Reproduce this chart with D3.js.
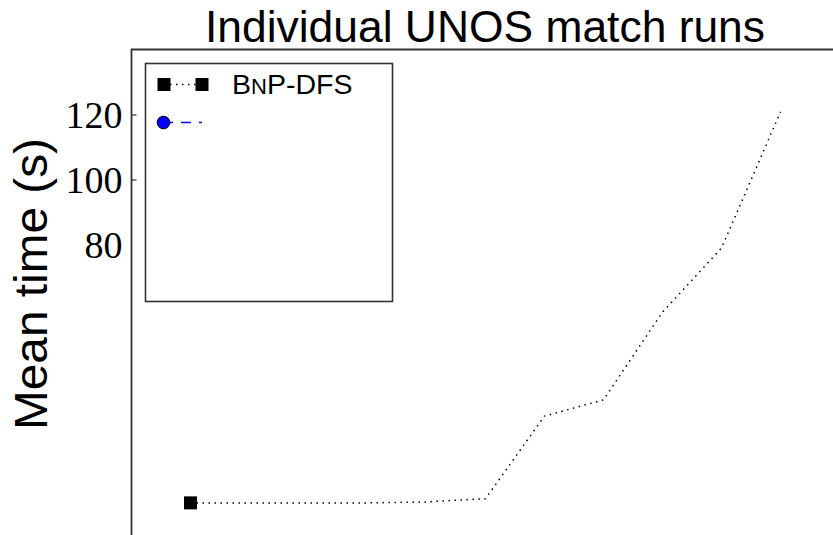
<!DOCTYPE html>
<html>
<head>
<meta charset="utf-8">
<script src="https://cdn.jsdelivr.net/npm/d3@7"></script>
<style>
  body { margin: 0; background: #fff; }
  svg { display: block; }
</style>
</head>
<body>
<div id="chart"></div>
<script>
// Chart size
const width = 833;
const height = 535;

// Data
const runIndex = [0, 1, 2, 3, 4, 5, 6, 7, 8, 9, 10];
const bnpDfsTime = [0.5, 0.5, 0.5, 0.5, 0.8, 1.8, 27.2, 32.2, 59.2, 78.9, 120.8];
const yTicks = [80, 100, 120];
const legendLabels = ["BnP-DFS", ""];

const svg = d3.select("#chart")
  .append("svg")
  .attr("width", width)
  .attr("height", height);

// Axes box (right and bottom run off the page)
const plotLeft = 131.5, plotTop = 49.5, plotRight = 839.5, plotBottom = 569.5;

const x = d3.scaleLinear().domain([-1, 11]).range([plotLeft, plotRight]);
const y = d3.scaleLinear().domain([-20, 140]).range([plotBottom, plotTop]);

svg.append("clipPath")
  .attr("id", "plot-area")
  .append("rect")
  .attr("x", plotLeft)
  .attr("y", plotTop)
  .attr("width", plotRight - plotLeft)
  .attr("height", plotBottom - plotTop);

// Series line
const points = runIndex.map((d, i) => ({ i: d, t: bnpDfsTime[i] }));
const line = d3.line().x(d => x(d.i)).y(d => y(d.t));

svg.append("path")
  .datum(points)
  .attr("clip-path", "url(#plot-area)")
  .attr("d", line)
  .attr("fill", "none")
  .attr("stroke", "#000")
  .attr("stroke-width", 1.5)
  .attr("stroke-dasharray", "1.5,4.5");

// only the first point carries a marker
svg.append("rect")
  .attr("x", x(points[0].i) - 6.5)
  .attr("y", y(points[0].t) - 6.5)
  .attr("width", 13)
  .attr("height", 13)
  .attr("fill", "#000");

// Y axis, ticks pointing inwards
const yAxis = d3.axisRight(y).tickValues(yTicks).tickSize(5).tickFormat(d3.format("d"));
const yAxisG = svg.append("g")
  .attr("transform", `translate(${plotLeft},0)`)
  .call(yAxis);
yAxisG.select(".domain").remove();
yAxisG.selectAll(".tick line").attr("stroke", "#333").attr("stroke-width", 1.2)
  .filter(d => d === 80).remove();
yAxisG.selectAll(".tick text")
  .attr("x", -9)
  .attr("dy", "0.33em")
  .attr("text-anchor", "end")
  .attr("fill", "#000")
  .style("font-family", "'Liberation Serif', 'DejaVu Serif', serif")
  .style("font-size", "38px");

// Spines
svg.append("path")
  .attr("d", `M${plotLeft},${height + 5}V${plotTop}H${width + 5}`)
  .attr("fill", "none")
  .attr("stroke", "#333")
  .attr("stroke-width", 1.8);

// Title
svg.append("text")
  .attr("x", 485)
  .attr("y", 42)
  .attr("text-anchor", "middle")
  .attr("textLength", 560)
  .attr("lengthAdjust", "spacingAndGlyphs")
  .style("font-family", "'Liberation Sans', Arial, sans-serif")
  .style("font-size", "45px")
  .text("Individual UNOS match runs");

// Y label
svg.append("text")
  .attr("transform", "translate(47,284) rotate(-90)")
  .attr("text-anchor", "middle")
  .attr("textLength", 292)
  .attr("lengthAdjust", "spacingAndGlyphs")
  .style("font-family", "'Liberation Sans', Arial, sans-serif")
  .style("font-size", "46px")
  .text("Mean time (s)");

// Legend
const legend = svg.append("g");
legend.append("rect")
  .attr("x", 145.5)
  .attr("y", 63.5)
  .attr("width", 247)
  .attr("height", 238)
  .attr("fill", "#fff")
  .attr("stroke", "#333")
  .attr("stroke-width", 1.6);

// entry 1: dotted black with squares
legend.append("line")
  .attr("x1", 164).attr("x2", 202)
  .attr("y1", 84.5).attr("y2", 84.5)
  .attr("stroke", "#000")
  .attr("stroke-width", 1.5)
  .attr("stroke-dasharray", "1.5,4.5");
legend.selectAll("rect.mk")
  .data([164, 202])
  .enter()
  .append("rect")
  .attr("class", "mk")
  .attr("x", d => d - 6.5)
  .attr("y", 78)
  .attr("width", 13)
  .attr("height", 13)
  .attr("fill", "#000");

const label = legend.append("text")
  .attr("x", 232)
  .attr("y", 93.5)
  .style("font-family", "'Liberation Sans', Arial, sans-serif")
  .style("font-size", "28.5px");
// small caps done by hand: B, small N, P-DFS
const name = legendLabels[0];
label.append("tspan").text(name[0]);
label.append("tspan").style("font-size", "22px").text(name.slice(1, 2).toUpperCase());
label.append("tspan").text(name.slice(2));

// entry 2: dashed blue with circle
legend.append("line")
  .attr("x1", 163).attr("x2", 202)
  .attr("y1", 122.5).attr("y2", 122.5)
  .attr("stroke", "#0000ff")
  .attr("stroke-width", 1.5)
  .attr("stroke-dasharray", "10,8");
legend.append("circle")
  .attr("cx", 163.5)
  .attr("cy", 122.5)
  .attr("r", 6.3)
  .attr("fill", "#0000ff")
  .attr("stroke", "#000")
  .attr("stroke-width", 1);
legend.append("text")
  .attr("x", 232)
  .attr("y", 131.5)
  .style("font-family", "'Liberation Sans', Arial, sans-serif")
  .style("font-size", "28px")
  .text(legendLabels[1]);
</script>
</body>
</html>
